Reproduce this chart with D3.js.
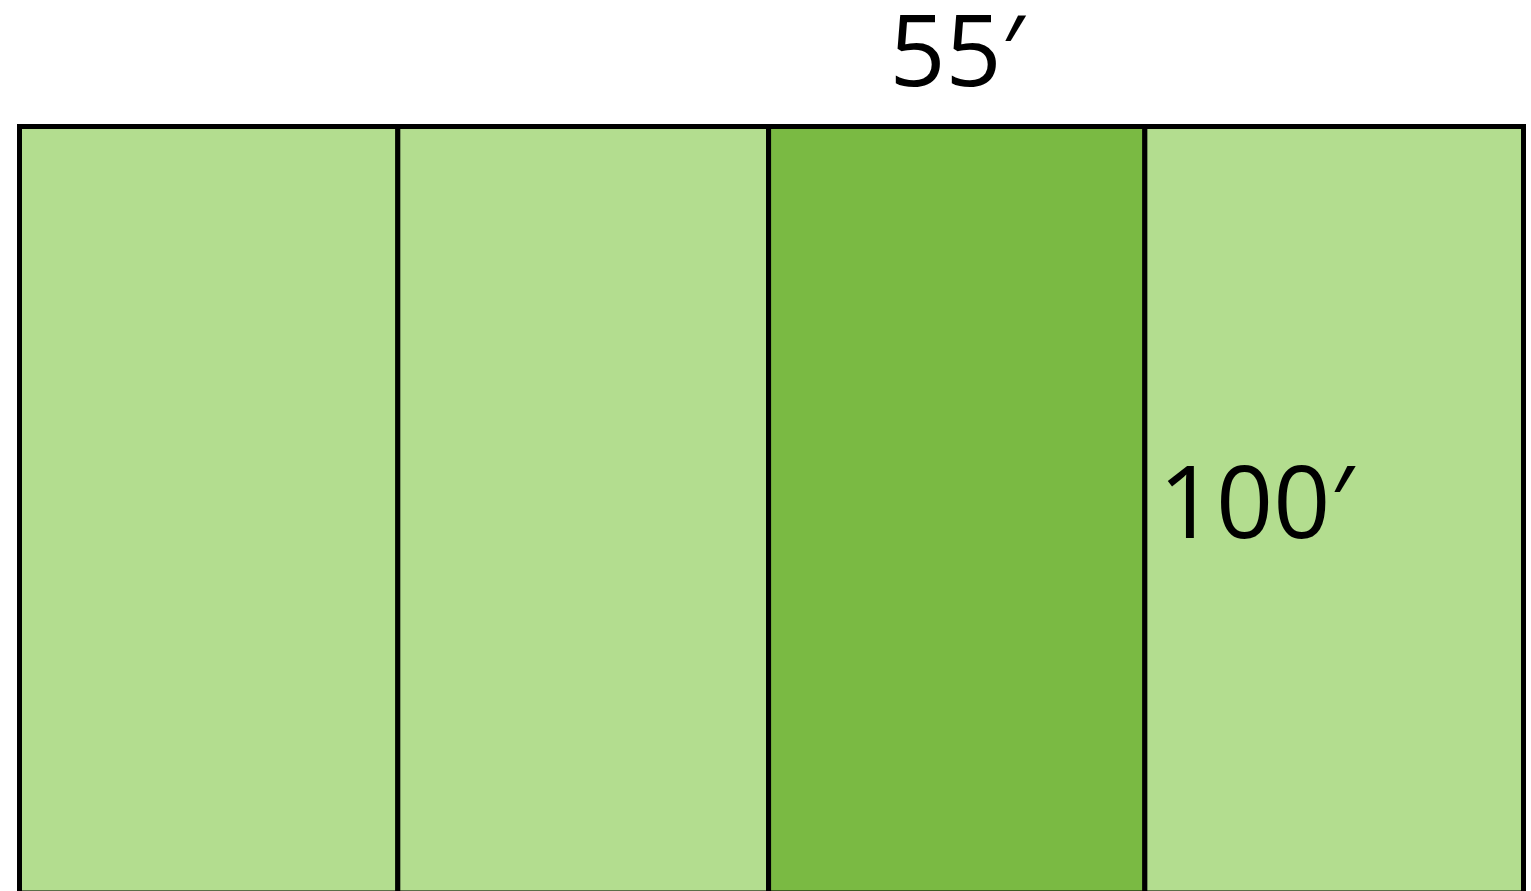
<!DOCTYPE html>
<html>
<head>
<meta charset="utf-8">
<script src="https://cdn.jsdelivr.net/npm/d3@7"></script>
<style>
  body { margin: 0; background: #fff; }
  svg { display: block; }
</style>
</head>
<body>
<div id="chart"></div>
<script>
// Sections of the lot, left to right (width in feet)
var sections = ["A", "B", "C", "D"];
var sectionWidths = [55.3, 54.2, 55, 55.35];
var highlighted = ["C"];          // the darker strip
var depthFeet = 100;              // depth of the lot
var widthLabel = "55\u2032";
var depthLabel = "100\u2032";

function init() {
  var W = 1531, H = 891;

  var svg = d3.select("#chart")
              .append("svg")
              .attr("width", W)
              .attr("height", H);

  // cumulative edges of every section
  var edges = [0];
  sectionWidths.forEach(function(w, i) { edges.push(edges[i] + w); });

  var x = d3.scaleLinear()
            .domain([0, edges[edges.length - 1]])
            .range([19.5, 1523.5]);

  var y = d3.scaleLinear()
            .domain([0, depthFeet])
            .range([893, 126.5]);   // bottom runs just past the page

  var color = function(d) {
    return highlighted.indexOf(d) >= 0 ? "#7aba43" : "#b3dd8f";
  };

  // the strips
  svg.append("g")
     .selectAll("rect")
     .data(sections)
     .enter().append("rect")
       .attr("x", function(d, i) { return x(edges[i]); })
       .attr("y", y(depthFeet))
       .attr("width", function(d, i) { return x(edges[i + 1]) - x(edges[i]); })
       .attr("height", y(0) - y(depthFeet))
       .attr("fill", color)
       .attr("stroke", "#000")
       .attr("stroke-width", 5);

  // width label over the dark strip
  var iC = sections.indexOf(highlighted[0]);
  svg.append("text")
     .attr("x", (x(edges[iC]) + x(edges[iC + 1])) / 2)
     .attr("y", 86)
     .attr("text-anchor", "middle")
     .style("font-family", "'Open Sans', 'DejaVu Sans', sans-serif")
     .style("font-size", "98px")
     .text(widthLabel);

  // depth label just right of the dark strip
  svg.append("text")
     .attr("x", x(edges[iC + 1]) + 14)
     .attr("y", 538)
     .style("font-family", "'Open Sans', 'DejaVu Sans', sans-serif")
     .style("font-size", "100px")
     .text(depthLabel);
}

window.onload = init;
</script>
</body>
</html>
